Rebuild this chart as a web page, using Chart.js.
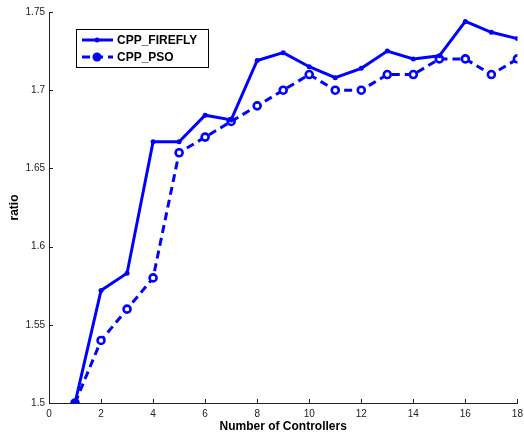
<!DOCTYPE html>
<html>
<head>
<meta charset="utf-8">
<script src="https://cdn.jsdelivr.net/npm/chart.js@4.4.0/dist/chart.umd.min.js"></script>
<style>
html, body { margin: 0; padding: 0; background: #fff; }
#wrap { width: 524px; height: 437px; }
</style>
</head>
<body>
<div id="wrap"><canvas id="graph"></canvas></div>
<script>
var controllers = [1, 2, 3, 4, 5, 6, 7, 8, 9, 10, 11, 12, 13, 14, 15, 16, 17, 18]
var fireflyRatio = [1.500, 1.572, 1.583, 1.667, 1.667, 1.684, 1.681, 1.719, 1.724, 1.715, 1.708, 1.714, 1.725, 1.720, 1.722, 1.744, 1.737, 1.733]
var psoRatio = [1.50, 1.54, 1.56, 1.58, 1.66, 1.67, 1.68, 1.69, 1.70, 1.71, 1.70, 1.70, 1.71, 1.71, 1.72, 1.72, 1.71, 1.72]
var xTicks = [0, 2, 4, 6, 8, 10, 12, 14, 16, 18]
var yTicks = [1.5, 1.55, 1.6, 1.65, 1.7, 1.75]
var seriesNames = ['CPP_FIREFLY', 'CPP_PSO']

var BLUE = '#0000ff'

function toPoints(values) {
    return controllers.map(function (c, i) { return { x: c, y: values[i] } })
}

// matlab style ticks pointing into the plot
var innerTicks = {
    id: 'innerTicks',
    afterDraw: function (chart) {
        var ctx = chart.ctx
        var area = chart.chartArea
        ctx.save()
        ctx.strokeStyle = '#222'
        ctx.lineWidth = 1
        chart.scales.x.ticks.forEach(function (t) {
            var px = Math.round(chart.scales.x.getPixelForValue(t.value)) + 0.5
            ctx.beginPath()
            ctx.moveTo(px, area.bottom)
            ctx.lineTo(px, area.bottom - 4)
            ctx.stroke()
        })
        chart.scales.y.ticks.forEach(function (t) {
            var py = Math.round(chart.scales.y.getPixelForValue(t.value)) + 0.5
            ctx.beginPath()
            ctx.moveTo(area.left, py)
            ctx.lineTo(area.left + 4, py)
            ctx.stroke()
        })
        ctx.restore()
    }
}

var boxLegend = {
    id: 'boxLegend',
    afterDraw: function (chart) {
        var ctx = chart.ctx
        var x0 = 76, y0 = 29, w = 132, h = 38
        ctx.save()
        ctx.fillStyle = '#fff'
        ctx.fillRect(x0, y0, w, h)
        ctx.strokeStyle = '#000'
        ctx.lineWidth = 1
        ctx.strokeRect(x0 + 0.5, y0 + 0.5, w, h)
        chart.data.datasets.forEach(function (ds, i) {
            var cy = y0 + 11 + i * 17
            ctx.strokeStyle = ds.borderColor
            ctx.lineWidth = ds.borderWidth
            ctx.setLineDash(ds.borderDash || [])
            ctx.beginPath()
            ctx.moveTo(x0 + 6, cy)
            ctx.lineTo(x0 + 37, cy)
            ctx.stroke()
            ctx.setLineDash([])
            ctx.beginPath()
            ctx.arc(x0 + 21, cy, i == 0 ? 2.5 : 4.5, 0, Math.PI * 2)
            ctx.fillStyle = BLUE
            ctx.fill()
            ctx.fillStyle = '#000'
            ctx.font = 'bold 12px "Liberation Sans", Arial, sans-serif'
            ctx.textBaseline = 'middle'
            ctx.fillText(ds.label, x0 + 41, cy + 0.5)
        })
        ctx.restore()
    }
}

var tickFont = { family: '"Liberation Sans", Arial, sans-serif', size: 10 }
var titleFont = { family: '"Liberation Sans", Arial, sans-serif', size: 12, weight: 'bold' }

var chart = new Chart(document.getElementById('graph').getContext('2d'), {
    type: 'line',
    data: {
        datasets: [{
            label: seriesNames[0],
            data: toPoints(fireflyRatio),
            borderColor: BLUE,
            backgroundColor: BLUE,
            borderWidth: 3,
            pointRadius: 2.5,
            pointBorderWidth: 0,
            tension: 0
        }, {
            label: seriesNames[1],
            data: toPoints(psoRatio),
            borderColor: BLUE,
            backgroundColor: '#fff',
            borderWidth: 3,
            borderDash: [8, 5],
            pointRadius: 3.5,
            pointBorderWidth: 2.6,
            tension: 0
        }]
    },
    options: {
        responsive: true,
        maintainAspectRatio: false,
        animation: false,
        layout: { padding: { top: 12, right: 6, left: 0, bottom: 0 } },
        plugins: { legend: { display: false }, tooltip: { enabled: false } },
        scales: {
            x: {
                type: 'linear',
                min: 0,
                max: 18,
                afterBuildTicks: function (s) { s.ticks = xTicks.map(function (v) { return { value: v } }) },
                afterFit: function (s) { s.height = 34; s.paddingRight = 0; s.paddingLeft = 0 },
                grid: { display: false, drawTicks: false },
                border: { display: true, color: '#222', width: 1 },
                ticks: { font: tickFont, color: '#222', padding: 5, maxRotation: 0 },
                title: { display: true, text: 'Number of Controllers', font: titleFont, color: '#000', padding: { top: 0, bottom: 3.5 } }
            },
            y: {
                min: 1.5,
                max: 1.75,
                afterBuildTicks: function (s) { s.ticks = yTicks.map(function (v) { return { value: v } }) },
                afterFit: function (s) { s.width = 49; s.paddingTop = 0; s.paddingBottom = 0 },
                grid: { display: false, drawTicks: false },
                border: { display: true, color: '#222', width: 1 },
                ticks: {
                    font: tickFont, color: '#222', padding: 4,
                    callback: function (v) { return String(+Number(v).toFixed(2)) }
                },
                title: { display: true, text: 'ratio', font: titleFont, color: '#000', padding: { top: 7, bottom: 0 } }
            }
        }
    },
    plugins: [innerTicks, boxLegend]
})
</script>
</body>
</html>
